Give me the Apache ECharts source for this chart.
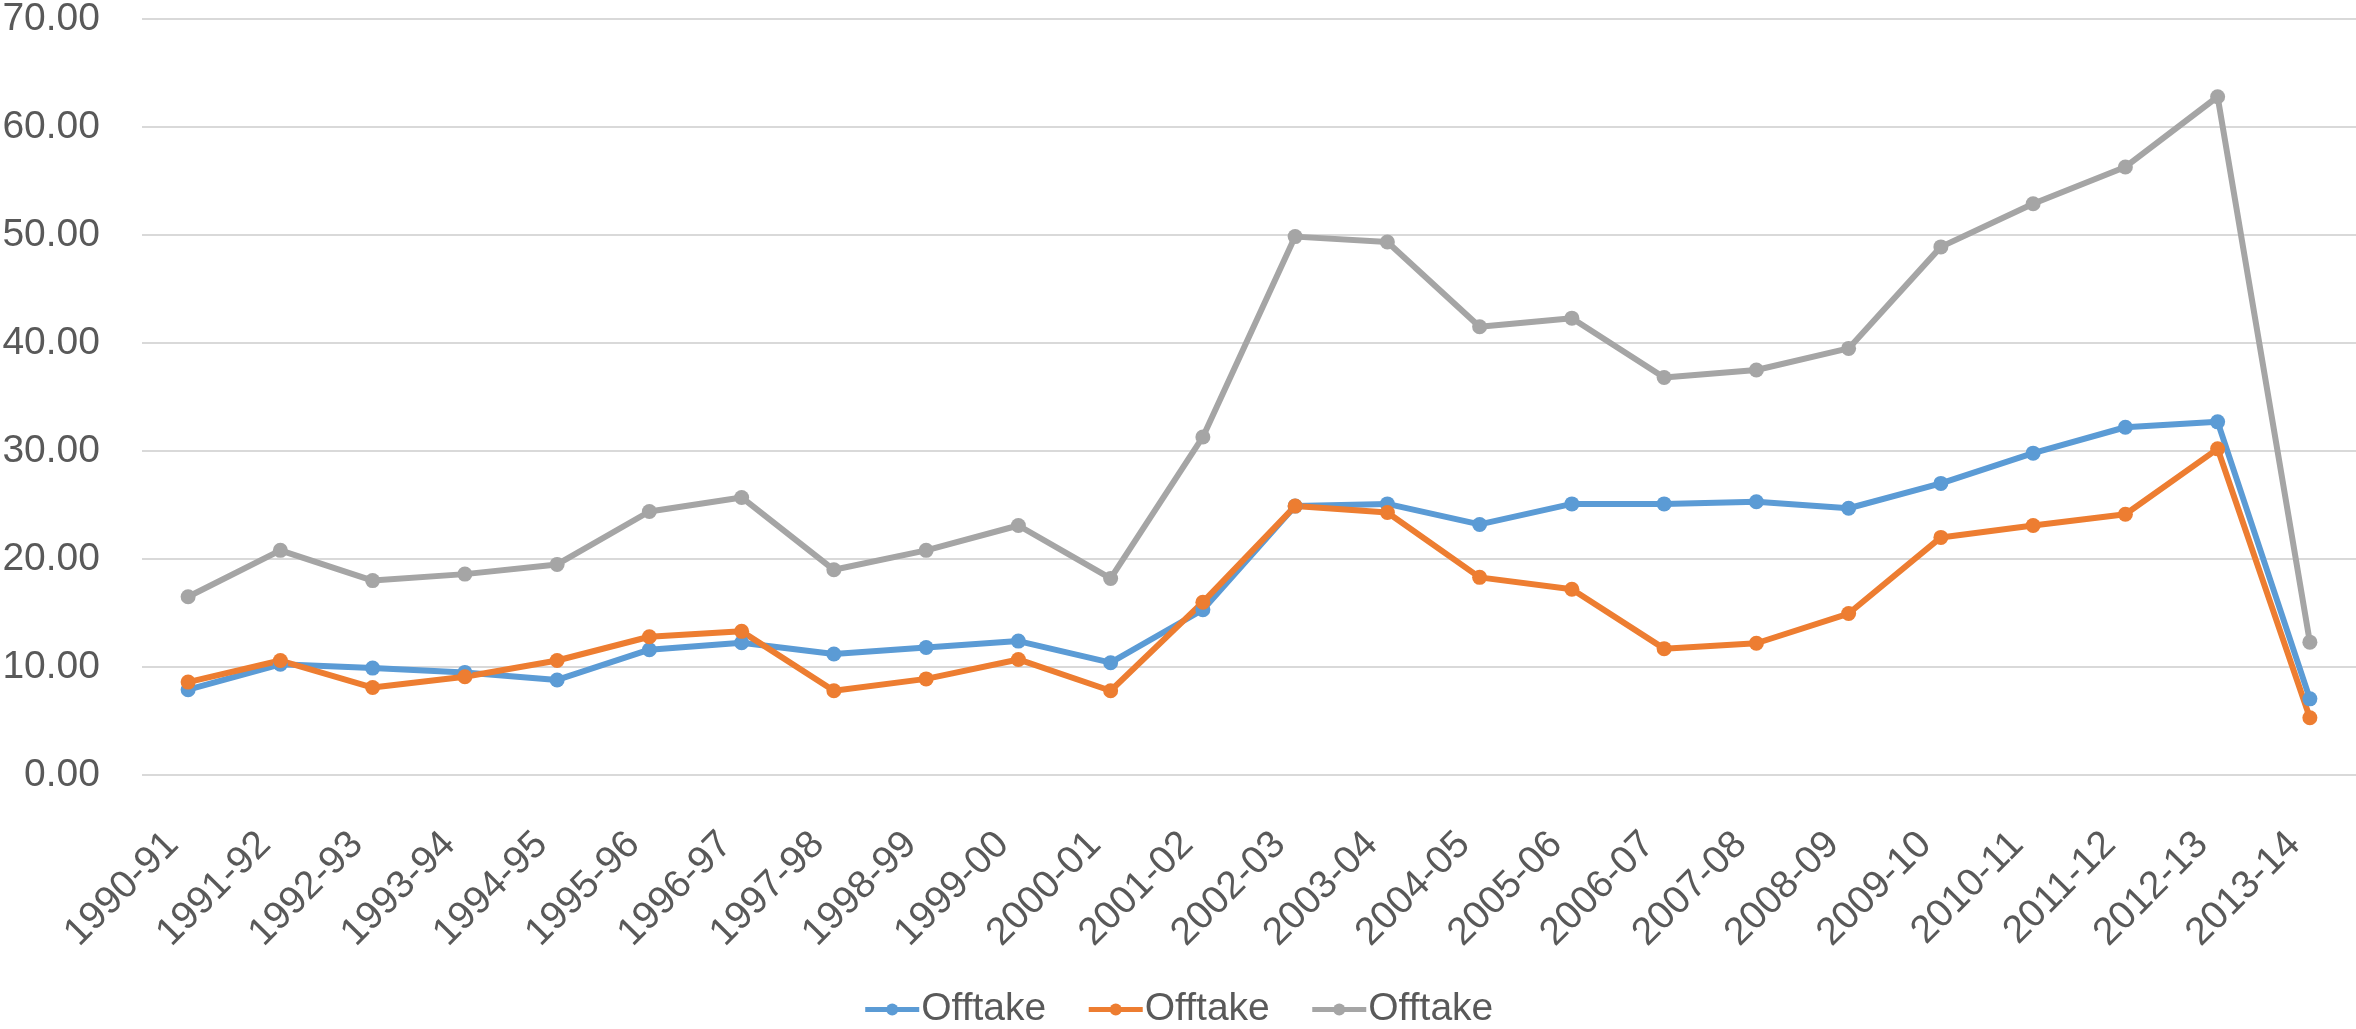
<!DOCTYPE html>
<html>
<head>
<meta charset="utf-8">
<script src="https://cdn.jsdelivr.net/npm/echarts@6/dist/echarts.min.js"></script>
<style>html,body{margin:0;padding:0;background:#fff}#c{width:2356px;height:1029px}</style>
</head>
<body>
<div id="c"></div>
<script>
const categories = ['1990-91','1991-92','1992-93','1993-94','1994-95','1995-96','1996-97','1997-98','1998-99','1999-00','2000-01','2001-02','2002-03','2003-04','2004-05','2005-06','2006-07','2007-08','2008-09','2009-10','2010-11','2011-12','2012-13','2013-14'];
const seriesBlue = [7.9,10.25,9.9,9.5,8.8,11.6,12.25,11.2,11.8,12.4,10.4,15.3,24.9,25.1,23.2,25.1,25.1,25.3,24.7,27.0,29.8,32.2,32.7,7.05];
const seriesOrange = [8.6,10.6,8.1,9.1,10.6,12.8,13.3,7.8,8.9,10.7,7.8,16.0,24.9,24.3,18.3,17.2,11.7,12.2,14.95,22.0,23.1,24.15,30.2,5.3];
const seriesGray = [16.5,20.8,18.0,18.6,19.5,24.4,25.7,19.0,20.8,23.1,18.2,31.3,49.85,49.35,41.5,42.3,36.8,37.5,39.5,48.9,52.9,56.3,62.8,12.3];
const yTicks = {min: 0, max: 70, interval: 10};
const seriesName = 'Offtake';

const FONT = '"Liberation Sans", Arial, sans-serif';
const colors = ['#5B9BD5', '#ED7D31', '#A5A5A5'];
const datas = [seriesBlue, seriesOrange, seriesGray];

const chart = echarts.init(document.getElementById('c'), null, {renderer: 'canvas'});
chart.setOption({
  animation: false,
  backgroundColor: '#fff',
  color: colors,
  grid: {left: 142, right: 0, top: 19, bottom: 254, containLabel: false, outerBoundsMode: 'none'},
  legend: {
    top: 985,
    left: 'center',
    itemWidth: 54,
    itemHeight: 15,
    itemGap: 40,
    data: ['s1', 's2', 's3'],
    formatter: function () { return seriesName; },
    lineStyle: {width: 5},
    textStyle: {color: '#595959', fontSize: 39, fontFamily: FONT, padding: [0,0,0,-3]}
  },
  xAxis: {
    type: 'category',
    data: categories,
    boundaryGap: true,
    axisLine: {show: false},
    axisTick: {show: false},
    axisLabel: {rotate: 45, color: '#595959', fontSize: 39, fontFamily: FONT, margin: 48, interval: 0,
      padding: [0, 22, 0, 0]}
  },
  yAxis: {
    type: 'value',
    min: yTicks.min, max: yTicks.max, interval: yTicks.interval,
    axisLine: {show: false},
    axisTick: {show: false},
    splitLine: {lineStyle: {color: '#D9D9D9', width: 2}},
    axisLabel: {color: '#595959', fontSize: 39, fontFamily: FONT, margin: 42,
      formatter: function (v) { return v.toFixed(2); }}
  },
  series: datas.map(function (d, i) {
    return {
      name: 's' + (i + 1),
      type: 'line',
      data: d,
      symbol: 'circle',
      symbolSize: 15,
      lineStyle: {width: 6, color: colors[i]},
      itemStyle: {color: colors[i]}
    };
  })
});
</script>
</body>
</html>
